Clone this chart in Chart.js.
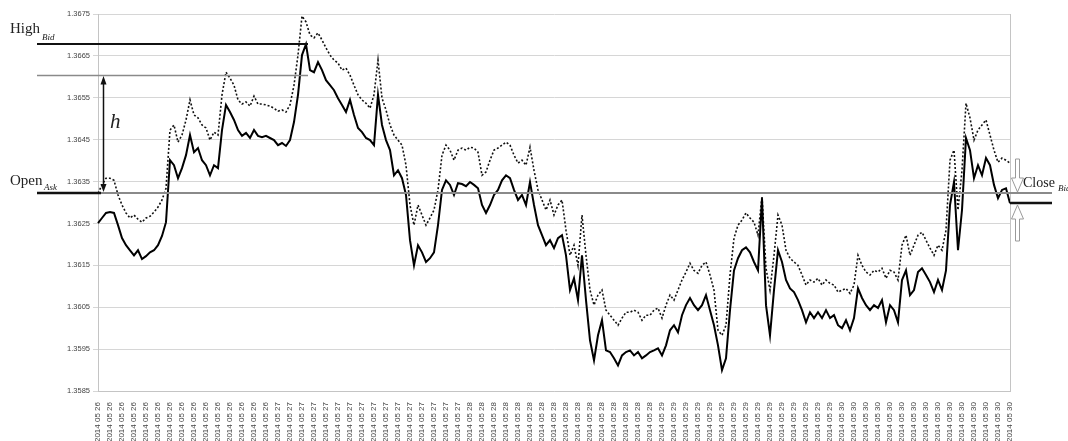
<!DOCTYPE html>
<html><head><meta charset="utf-8">
<script src="https://cdn.jsdelivr.net/npm/chart.js@4.4.1/dist/chart.umd.min.js"></script>
<style>html,body{margin:0;padding:0;background:#fff}#wrap{width:1068px;height:441px}</style>
</head><body><div id="wrap"><canvas id="c" width="1068" height="441"></canvas></div>
<script>
const dayLabels = ['2014 05 26','2014 05 27','2014 05 28','2014 05 29','2014 05 30'];
const ticksPerDay = [15,16,16,15,15];
const pointsPerTick = 3;
const yTicks = [1.3585,1.3595,1.3605,1.3615,1.3625,1.3635,1.3645,1.3655,1.3665,1.3675];
const hLevel = 1.36604;

const bid = [
1.36251,1.36263,1.36275,1.36277,1.36275,1.36246,1.36215,1.36198,1.36186,1.36174,
1.36186,1.36165,1.36172,1.36181,1.36186,1.36198,1.36220,1.36253,1.36401,1.36389,
1.36358,1.36382,1.36413,1.36461,1.36420,1.36430,1.36401,1.36389,1.36365,1.36389,
1.36382,1.36473,1.36533,1.36516,1.36497,1.36473,1.36459,1.36466,1.36454,1.36473,
1.36459,1.36456,1.36459,1.36454,1.36449,1.36437,1.36442,1.36435,1.36449,1.36492,
1.36557,1.36652,1.36678,1.36616,1.36611,1.36635,1.36616,1.36592,1.36580,1.36568,
1.36549,1.36533,1.36516,1.36545,1.36509,1.36478,1.36468,1.36454,1.36449,1.36437,
1.36557,1.36485,1.36449,1.36425,1.36365,1.36377,1.36358,1.36318,1.36210,1.36150,
1.36198,1.36181,1.36158,1.36167,1.36181,1.36246,1.36330,1.36353,1.36342,1.36318,
1.36346,1.36344,1.36339,1.36349,1.36342,1.36334,1.36294,1.36275,1.36294,1.36318,
1.36330,1.36353,1.36365,1.36358,1.36330,1.36306,1.36318,1.36294,1.36349,1.36294,
1.36246,1.36222,1.36198,1.36210,1.36191,1.36215,1.36222,1.36174,1.36091,1.36119,
1.36067,1.36174,1.36067,1.35971,1.35923,1.35983,1.36019,1.35947,1.35943,1.35928,
1.35911,1.35935,1.35943,1.35947,1.35935,1.35943,1.35928,1.35935,1.35943,1.35947,
1.35952,1.35935,1.35959,1.35995,1.36007,1.35990,1.36031,1.36055,1.36072,1.36055,
1.36043,1.36055,1.36079,1.36043,1.36007,1.35959,1.35900,1.35928,1.36043,1.36138,
1.36167,1.36186,1.36193,1.36181,1.36158,1.36138,1.36310,1.36055,1.35983,1.36091,
1.36186,1.36158,1.36115,1.36095,1.36086,1.36067,1.36043,1.36014,1.36038,1.36024,
1.36038,1.36024,1.36043,1.36024,1.36031,1.36007,1.36000,1.36019,1.35995,1.36024,
1.36095,1.36072,1.36055,1.36043,1.36055,1.36048,1.36067,1.36014,1.36055,1.36043,
1.36014,1.36115,1.36138,1.36079,1.36091,1.36134,1.36143,1.36127,1.36110,1.36086,
1.36115,1.36091,1.36138,1.36294,1.36349,1.36186,1.36282,1.36454,1.36425,1.36358,
1.36389,1.36365,1.36406,1.36389,1.36342,1.36310,1.36330,1.36334,1.36298
];

const ask = [
1.36322,1.36342,1.36358,1.36358,1.36353,1.36318,1.36294,1.36275,1.36263,1.36270,
1.36260,1.36253,1.36263,1.36267,1.36277,1.36289,1.36306,1.36334,1.36473,1.36485,
1.36444,1.36461,1.36497,1.36545,1.36509,1.36502,1.36485,1.36478,1.36449,1.36468,
1.36461,1.36557,1.36611,1.36597,1.36580,1.36545,1.36535,1.36540,1.36530,1.36554,
1.36535,1.36535,1.36533,1.36530,1.36525,1.36518,1.36521,1.36516,1.36533,1.36580,
1.36652,1.36745,1.36731,1.36700,1.36693,1.36705,1.36688,1.36669,1.36652,1.36640,
1.36633,1.36616,1.36621,1.36604,1.36580,1.36557,1.36545,1.36537,1.36525,1.36557,
1.36640,1.36549,1.36521,1.36485,1.36461,1.36449,1.36437,1.36389,1.36294,1.36246,
1.36294,1.36270,1.36246,1.36263,1.36282,1.36330,1.36413,1.36437,1.36425,1.36401,
1.36425,1.36430,1.36425,1.36432,1.36430,1.36420,1.36365,1.36373,1.36401,1.36425,
1.36430,1.36437,1.36444,1.36437,1.36413,1.36394,1.36401,1.36389,1.36432,1.36377,
1.36330,1.36306,1.36282,1.36306,1.36270,1.36294,1.36306,1.36234,1.36174,1.36198,
1.36150,1.36270,1.36174,1.36091,1.36055,1.36079,1.36091,1.36043,1.36031,1.36019,
1.36007,1.36024,1.36038,1.36038,1.36043,1.36038,1.36019,1.36031,1.36031,1.36043,
1.36048,1.36024,1.36055,1.36079,1.36067,1.36091,1.36115,1.36134,1.36155,1.36138,
1.36131,1.36150,1.36158,1.36127,1.36091,1.35995,1.35983,1.36007,1.36127,1.36215,
1.36246,1.36258,1.36275,1.36263,1.36253,1.36222,1.36315,1.36143,1.36091,1.36174,
1.36270,1.36246,1.36186,1.36167,1.36158,1.36150,1.36127,1.36103,1.36115,1.36110,
1.36119,1.36103,1.36115,1.36107,1.36103,1.36086,1.36091,1.36095,1.36083,1.36103,
1.36174,1.36150,1.36134,1.36127,1.36138,1.36134,1.36143,1.36119,1.36138,1.36134,
1.36115,1.36198,1.36222,1.36174,1.36198,1.36222,1.36229,1.36210,1.36191,1.36174,
1.36198,1.36186,1.36234,1.36401,1.36425,1.36282,1.36377,1.36537,1.36502,1.36449,
1.36473,1.36485,1.36497,1.36461,1.36425,1.36396,1.36406,1.36401,1.36394
];

// one category label per data point (each tick label covers pointsPerTick points)
const labels = [];
dayLabels.forEach((d, k) => { for (let j = 0; j < ticksPerDay[k] * pointsPerTick; j++) labels.push(d); });
labels.length = bid.length;

function line(ctx, x1, y1, x2, y2, color, w) {
  ctx.beginPath(); ctx.strokeStyle = color; ctx.lineWidth = w;
  ctx.moveTo(x1, y1); ctx.lineTo(x2, y2); ctx.stroke();
}

const annot = {
  id: 'annot',
  afterDraw(chart) {
    const { ctx, chartArea: a, scales: { x, y } } = chart;
    const hi = Math.max(...bid);
    const hiIdx = bid.indexOf(hi);
    const yHigh = Math.round(y.getPixelForValue(hi));
    const xHigh = x.getPixelForValue(hiIdx) + 2;
    const yH = Math.round(y.getPixelForValue(hLevel)) + 0.5;
    const yOpen = Math.round(y.getPixelForValue(ask[0]));
    const yClose = Math.round(y.getPixelForValue(bid[bid.length - 1]));
    ctx.save();
    line(ctx, a.right + 0.5, a.top, a.right + 0.5, a.bottom, '#c4c4c4', 1);
    // High bid level
    line(ctx, 37, yHigh, xHigh, yHigh, '#111', 2);
    // upper level of h
    line(ctx, 37, yH, xHigh, yH, '#8a8a8a', 1.5);
    // Open ask level
    line(ctx, a.left, yOpen, 1052, yOpen, '#8a8a8a', 2);
    line(ctx, 37, yOpen, a.left + 3, yOpen, '#111', 2.5);
    // Close bid level
    line(ctx, a.right, yClose, 1052, yClose, '#111', 2.5);
    // h double arrow
    const ax = 103.5;
    line(ctx, ax, yH + 6, ax, yOpen - 6, '#111', 1.5);
    ctx.fillStyle = '#111';
    ctx.beginPath(); ctx.moveTo(ax, yH + 0.5); ctx.lineTo(ax - 3, yH + 9); ctx.lineTo(ax + 3, yH + 9); ctx.closePath(); ctx.fill();
    ctx.beginPath(); ctx.moveTo(ax, yOpen - 1); ctx.lineTo(ax - 3, yOpen - 9); ctx.lineTo(ax + 3, yOpen - 9); ctx.closePath(); ctx.fill();
    // hollow arrows at close
    const cx = 1017.5;
    ctx.strokeStyle = '#999'; ctx.lineWidth = 1; ctx.fillStyle = '#fff';
    ctx.beginPath();
    ctx.moveTo(cx - 2, yOpen - 34); ctx.lineTo(cx + 2, yOpen - 34); ctx.lineTo(cx + 2, yOpen - 15);
    ctx.lineTo(cx + 6, yOpen - 15); ctx.lineTo(cx, yOpen - 1); ctx.lineTo(cx - 6, yOpen - 15);
    ctx.lineTo(cx - 2, yOpen - 15); ctx.closePath(); ctx.fill(); ctx.stroke();
    ctx.beginPath();
    ctx.moveTo(cx - 2, yClose + 38); ctx.lineTo(cx + 2, yClose + 38); ctx.lineTo(cx + 2, yClose + 16);
    ctx.lineTo(cx + 6, yClose + 16); ctx.lineTo(cx, yClose + 2); ctx.lineTo(cx - 6, yClose + 16);
    ctx.lineTo(cx - 2, yClose + 16); ctx.closePath(); ctx.fill(); ctx.stroke();
    // texts
    ctx.fillStyle = '#222';
    ctx.textBaseline = 'alphabetic'; ctx.textAlign = 'left';
    ctx.font = '15px "Liberation Serif", "DejaVu Serif", serif';
    ctx.fillText('High', 10, 33);
    ctx.fillText('Open', 10, 185);
    ctx.font = '14px "Liberation Serif", "DejaVu Serif", serif';
    ctx.fillText('Close', 1023, 187);
    ctx.font = 'italic 9px "Liberation Serif", "DejaVu Serif", serif';
    ctx.fillText('Bid', 42, 40);
    ctx.fillText('Ask', 44, 190);
    ctx.fillText('Bid', 1058, 191);
    ctx.font = 'italic 21px "Liberation Serif", "DejaVu Serif", serif';
    ctx.fillText('h', 110, 128);
    ctx.restore();
  }
};

const yFont = { family: '"Liberation Sans", Arial, sans-serif', size: 7.5 };
const xFont = { family: '"Liberation Sans", Arial, sans-serif', size: 8 };

new Chart(document.getElementById('c'), {
  type: 'line',
  data: {
    labels: labels,
    datasets: [
      { label: 'Bid', data: bid, borderColor: '#000', borderWidth: 2, pointRadius: 0, tension: 0, fill: false },
      { label: 'Ask', data: ask, borderColor: '#111', borderWidth: 1.6, borderDash: [2, 2], pointRadius: 0, tension: 0, fill: false }
    ]
  },
  options: {
    responsive: false, animation: false, devicePixelRatio: 1,
    layout: { padding: { left: 0, right: 58, top: 14, bottom: 0 } },
    plugins: { legend: { display: false }, tooltip: { enabled: false } },
    scales: {
      x: {
        type: 'category', offset: false,
        grid: { display: false },
        border: { display: true, color: '#c4c4c4' },
        ticks: { autoSkip: false, maxRotation: 90, minRotation: 90, font: xFont, color: '#444', padding: 3 },
        afterBuildTicks: (s) => { s.ticks = s.ticks.filter((t, i) => i % pointsPerTick === 0); },
        afterFit: (s) => { s.height = 50; }
      },
      y: {
        min: yTicks[0], max: yTicks[yTicks.length - 1],
        afterBuildTicks: (s) => { s.ticks = yTicks.map(v => ({ value: v })); },
        grid: { color: '#d6d6d6', tickLength: 5, lineWidth: 1 },
        border: { display: true, color: '#c4c4c4' },
        ticks: { font: yFont, color: '#444', padding: 3, callback: (v) => Number(v).toFixed(4) },
        afterFit: (s) => { s.width = 98; }
      }
    }
  },
  plugins: [annot]
});
</script>
</body></html>
